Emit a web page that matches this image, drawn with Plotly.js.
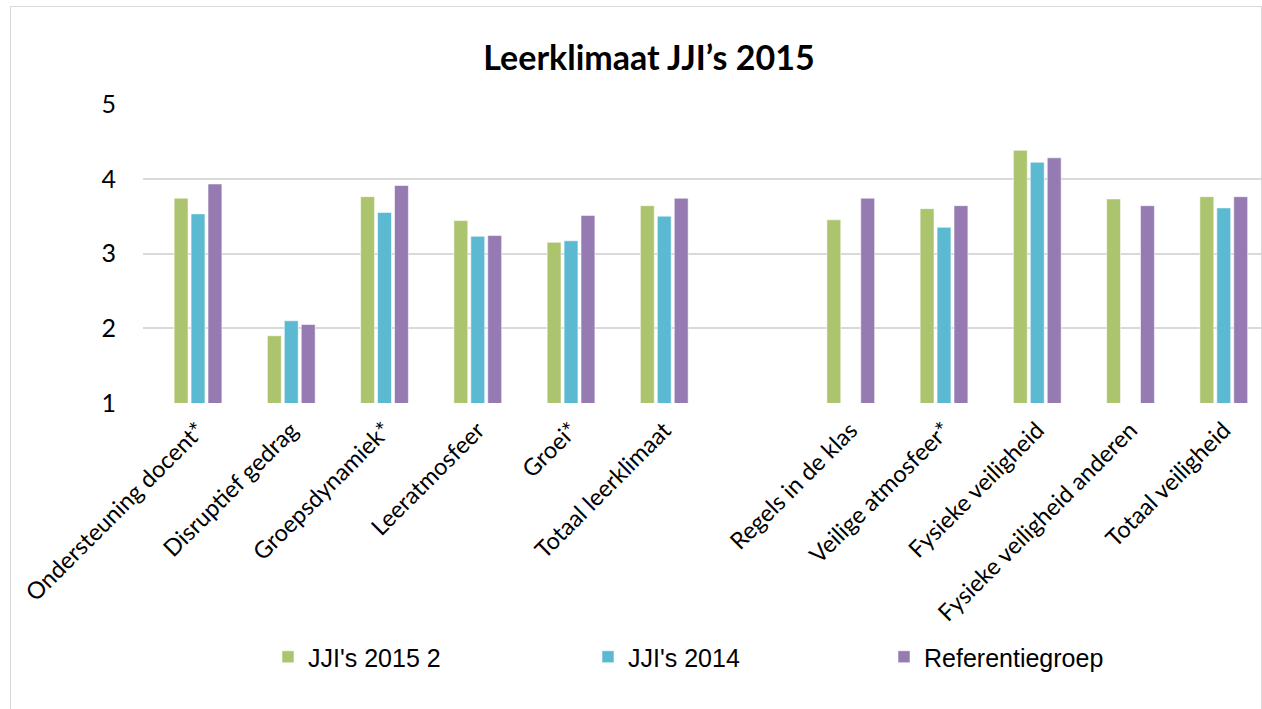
<!DOCTYPE html>
<html>
<head>
<meta charset="utf-8">
<script src="https://cdn.plot.ly/plotly-3.0.1.min.js"></script>
<style>
  html, body { margin: 0; padding: 0; background: #fff; }
  #chart { width: 1262px; height: 709px; }
  #frame { position: absolute; left: 10px; top: 6px; width: 1252px; height: 710px;
           border: 1.5px solid #d9d9d9; pointer-events: none; box-sizing: border-box; }
</style>
</head>
<body>
<div id="chart"></div>
<div id="frame"></div>
<script>
const categories = [
  "Ondersteuning docent*", "Disruptief gedrag", "Groepsdynamiek*", "Leeratmosfeer",
  "Groei*", "Totaal leerklimaat", " ", "Regels in de klas", "Veilige atmosfeer*",
  "Fysieke veiligheid", "Fysieke veiligheid anderen", "Totaal veiligheid"
];
const jji2015 = [3.74, 1.90, 3.76, 3.44, 3.15, 3.64, null, 3.45, 3.60, 4.38, 3.73, 3.76];
const jji2014 = [3.53, 2.10, 3.55, 3.23, 3.17, 3.50, null, null, 3.35, 4.22, null, 3.61];
const referentie = [3.93, 2.05, 3.91, 3.24, 3.51, 3.74, null, 3.74, 3.64, 4.28, 3.64, 3.76];
const seriesNames = ["JJI's 2015 2", "JJI's 2014", "Referentiegroep"];
const yTicks = [1, 2, 3, 4, 5];

const colors = ["#acc46d", "#5bb9d1", "#957bb2"];
const values = [jji2015, jji2014, referentie];
const legendIds = ["legend", "legend2", "legend3"];

const traces = values.map((v, i) => ({
  type: "bar",
  x: categories,
  y: v,
  name: seriesNames[i],
  legend: legendIds[i],
  marker: { color: colors[i], line: { color: "rgba(255,255,255,0.55)", width: 1 } },
  hoverinfo: "x+y+name"
}));

const legendFont = { family: "Liberation Sans, Arial, sans-serif", size: 25, color: "#000" };
function legendAt(px) {
  return {
    xref: "container", yref: "container",
    x: px / 1262, y: 1 - 657 / 709,
    xanchor: "left", yanchor: "middle",
    orientation: "h", font: legendFont, itemwidth: 30,
    bgcolor: "rgba(0,0,0,0)"
  };
}

const layout = {
  width: 1262, height: 709,
  paper_bgcolor: "#fff", plot_bgcolor: "#fff",
  margin: { l: 143, r: 0, t: 104, b: 306 },
  title: {
    text: "<b>Leerklimaat JJI’s 2015</b>",
    font: { family: "Lato, Calibri, sans-serif", size: 34, color: "#000" },
    x: 649 / 1262, xref: "container", xanchor: "center",
    y: 1 - 58 / 709, yref: "container", yanchor: "middle"
  },
  barmode: "group",
  bargap: 0.455,
  bargroupgap: 0.18,
  xaxis: {
    type: "category",
    categoryorder: "array",
    categoryarray: categories,
    range: [-0.59, 11.41],
    tickangle: -45,
    tickfont: { family: "Lato, Calibri, sans-serif", size: 23.5, color: "#000" },
    showgrid: false,
    showline: false,
    zeroline: false,
    ticks: "",
    ticklabelstandoff: 8,
    fixedrange: true
  },
  yaxis: {
    range: [1, 5],
    tickvals: yTicks,
    ticktext: yTicks.map(String),
    tickfont: { family: "Lato, Calibri, sans-serif", size: 25, color: "#000" },
    showgrid: true,
    gridcolor: "#d9d9d9",
    gridwidth: 2,
    zeroline: false,
    showline: false,
    ticks: "",
    ticklabelstandoff: 26,
    fixedrange: true
  },
  legend: legendAt(268),
  legend2: legendAt(588),
  legend3: legendAt(884),
  showlegend: true
};

Plotly.newPlot("chart", traces, layout, { displayModeBar: false });
</script>
</body>
</html>
